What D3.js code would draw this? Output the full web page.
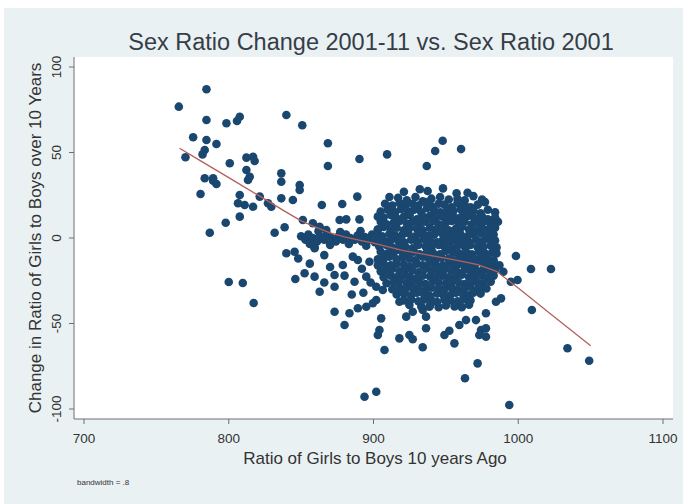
<!DOCTYPE html>
<html>
<head>
<meta charset="utf-8">
<script src="https://cdn.jsdelivr.net/npm/d3@7"></script>
<style>
  html, body { margin: 0; padding: 0; background: #ffffff; }
  svg { display: block; }
  text { font-family: "Liberation Sans", Arial, Helvetica, sans-serif; }
</style>
</head>
<body>
<svg id="chart" width="683" height="504"></svg>
<script>
// Axis ticks
const xTicks = [700, 800, 900, 1000, 1100];
const yTicks = [-100, -50, 0, 50, 100];

// Lowess smooth (bandwidth .8)
const lowX = [766, 780, 800, 820, 840, 850, 860, 870, 880, 890, 900, 920, 940, 957, 972, 985, 1000, 1020, 1035, 1050];
const lowY = [52.5, 45.4, 35.3, 25.2, 15.0, 10.0, 6.3, 3.0, 0.6, -1.2, -3.0, -7.2, -10.3, -12.9, -15.6, -19.5, -29.3, -42.8, -52.9, -63.0];

// Districts outside the central mass: [ratio 2001, change 2001-11]
const spreadPts = [
  [765.5,76.8],[784.6,87.0],[784.6,69.0],[798.4,67.1],[805.7,68.4],[807.6,70.9],[839.8,71.9],[850.8,65.9],
  [775.4,58.9],[784.6,57.3],[791.5,55.0],[783.4,51.5],[781.9,48.9],[770.1,47.2],[800.7,43.7],[812.2,47.0],
  [816.8,47.5],[817.9,45.0],[812.2,39.8],[814.5,35.8],[813.3,33.9],[783.4,34.9],[789.2,34.9],[791.5,31.6],
  [789.2,33.5],[836.3,37.8],[836.3,32.9],[849.0,31.0],[849.0,28.1],[868.5,55.4],[868.5,42.1],[890.3,46.2],
  [909.4,48.9],[780.5,25.7],[807.6,25.1],[806.4,20.3],[811.0,19.3],[816.8,18.3],[821.4,24.2],[827.1,20.3],
  [829.4,18.3],[836.3,23.2],[844.3,22.2],[864.3,19.3],[878.4,19.9],[888.8,24.2],[807.6,12.5],[797.9,8.9],
  [786.9,3.1],[831.7,3.1],[838.6,6.3],[851.2,10.5],[858.1,8.6],[862.8,6.6],[867.4,4.7],[876.6,10.5],
  [881.2,10.9],[890.3,10.9],[911.0,16.4],[839.8,-8.9],[845.5,-8.0],[859.3,-6.0],[859.3,-5.4],
  [800.0,-25.7],[809.7,-26.3],[817.2,-38.0],
  [852.4,-20.6],[859.3,-22.6],[862.8,-31.4],[873.1,-21.6],[873.1,-28.5],[878.8,-15.8],[885.7,-10.9],
  [889.2,-12.9],[897.2,-13.9],[886.9,-25.6],[895.0,-22.6],[873.1,-43.1],[883.4,-44.0],[889.2,-41.1],
  [895.0,-40.2],[899.5,-38.2],[901.9,-36.3],[880.0,-50.9],[905.3,-47.0],[904.1,-53.8],[903.0,-56.7],
  [907.6,-65.5],[901.9,-28.5],[906.4,-30.4],[917.9,-37.3],[924.8,-39.2],[927.1,-43.1],[922.6,-46.0],
  [934.0,-42.1],[938.6,-40.2],[936.3,-46.0],[917.9,-58.7],[924.8,-56.7],[927.1,-59.2],[934.0,-63.9],
  [936.3,-52.8],[949.0,-56.7],[952.4,-54.2],[955.9,-61.6],[959.3,-50.9],[963.9,-48.0],[970.8,-48.0],
  [974.3,-53.8],[977.7,-52.8],[977.7,-57.7],[973.1,-56.7],[977.7,-44.0],[971.9,-73.3],[963.2,-82.0],
  [893.8,-92.8],[901.9,-89.9],[993.8,-97.7],[984.6,-37.3],[988.1,-35.3],[994.9,-25.6],[999.5,-24.6],
  [989.7,-19.7],[998.4,-10.5],[1008.8,-18.1],[1022.6,-18.1],[1009.4,-42.1],[1034.0,-64.5],[1049.0,-71.8],
  [947.8,56.9],[942.6,50.9],[960.5,52.0],[936.8,42.1],[937.4,27.5],[957.4,26.1],
  [848,-12],[856,-15],[866,-10],[870,-17],[880,-22],[892,-18],[898,-26],[893,-32],[866,-26],[846,-24],[885,-33]
];

// Districts along the near-zero band
const bandPts = [
  [850,1],[853,-1],[855,2],[858,0],[861,-2],[863,1],[866,-1],[868,2],[871,0],[874,-2],[876,1],[879,-1],
  [881,2],[884,0],[887,-1],[889,1.5],[892,-2],[894,0.5],[897,-1],[899,2],[901,-2.5],[856,-3.5],[870,-4],
  [883,-3.5],[895,-4.5],[862,4],[877,3.5],[891,4],[903,5]
];

// Districts in the dense central mass
const massPts = [
  [917,23.5],[923,22],[929,24],[934,21.5],[940,23],[946,24],[952,22.5],[958,23],
  [913,19],[918,20.5],[922,18.5],[927,20],[931,19],[936,21],[940,18.5],[945,20],[949,19.5],[954,18],[958,20.5],[963,19],[967,18],
  [910,16.5],[915,15],[919,17],[924,15.5],[928,16.5],[933,15],[937,17.5],[942,16],[946,15],[951,16.5],[955,15.5],[960,17],[964,15],[969,16],[974,14.5],
  [907,12],[912,13.5],[916,11.5],[921,12.5],[925,13.5],[930,11],[934,12.5],[939,13],[943,11.5],[948,12.5],[952,13.5],[957,11.5],[961,12.5],[966,13],[970,11.5],[975,12.5],[979,11],
  [905,9.5],[909,8],[914,9],[918,10],[923,8.5],[927,9.5],[932,8],[936,9.5],[941,10],[945,8],[950,9],[954,10],[959,8.5],[963,9.5],[968,8],[972,9],[977,10],[981,8.5],
  [903,5],[907,6.5],[912,5],[916,6],[921,4.5],[925,6],[930,5.5],[934,4.5],[939,6],[943,5],[948,6.5],[952,4.5],[957,5.5],[961,6.5],[966,5],[970,4.5],[975,6],[979,5],[984,6],
  [902,2],[906,1],[911,2.5],[915,1.5],[920,2],[924,3],[929,1],[933,2.5],[938,1.5],[942,2],[947,3],[951,1],[956,2],[960,2.5],[965,1],[969,2],[974,3],[978,1.5],[983,2],
  [903,-1],[908,-2],[912,-1],[917,-1.5],[921,-2.5],[926,-1],[930,-2],[935,-0.5],[939,-1.5],[944,-2.5],[948,-1],[953,-2],[957,-1],[962,-1.5],[966,-2.5],[971,-1],[975,-2],[980,-1],[984,-1.5],
  [904,-5],[909,-4],[913,-5.5],[918,-4.5],[922,-5],[927,-6],[931,-4],[936,-5],[940,-5.5],[945,-4],[949,-5],[954,-6],[958,-4.5],[963,-5],[967,-4],[972,-5.5],[976,-5],[981,-4.5],[985,-5.5],
  [905,-8],[910,-9],[914,-8.5],[919,-7.5],[923,-9],[928,-8],[932,-9.5],[937,-8],[941,-8.5],[946,-9.5],[950,-7.5],[955,-8.5],[959,-9],[964,-8],[968,-9.5],[973,-8],[977,-9],[982,-8.5],[985,-9],
  [907,-12],[911,-11],[916,-12.5],[920,-11.5],[925,-12],[929,-13],[934,-11],[938,-12],[943,-12.5],[947,-11.5],[952,-12],[956,-13],[961,-11.5],[965,-12],[970,-12.5],[974,-11],[979,-12],[983,-13],
  [907,-15],[912,-16],[916,-15],[921,-15.5],[925,-16.5],[930,-15],[934,-16],[939,-14.5],[943,-15.5],[948,-16],[952,-15],[957,-16.5],[961,-15],[966,-15.5],[970,-16],[975,-14.5],[979,-16],[983,-15],
  [909,-19],[913,-18],[918,-19.5],[922,-18.5],[927,-19],[931,-20],[936,-18],[940,-19],[945,-19.5],[949,-18.5],[954,-19],[958,-20],[963,-18.5],[967,-19],[972,-19.5],[976,-18.5],[980,-19],
  [912,-22],[916,-23],[921,-22],[925,-22.5],[930,-23.5],[934,-22],[939,-22.5],[943,-23],[948,-22],[952,-23],[957,-22.5],[961,-21.5],[966,-23],[970,-22.5],[975,-22],[979,-23],
  [914,-26],[918,-25],[923,-26.5],[927,-25.5],[932,-26],[936,-27],[941,-25],[945,-26],[950,-26.5],[954,-25.5],[959,-26],[963,-27],[968,-25.5],[972,-26],[976,-26.5],
  [918,-29],[922,-30],[927,-29],[931,-29.5],[936,-30.5],[940,-29],[945,-29.5],[949,-30],[954,-29],[958,-30],[963,-29.5],[967,-28.5],[972,-30],[974,-29],
  [921,-32.5],[926,-33.5],[930,-32],[935,-33],[939,-34],[944,-32.5],[948,-33],[953,-33.5],[957,-32],[962,-33],[966,-33.5],[969,-32],
  [926,-36],[931,-37],[935,-36],[940,-36.5],[944,-37.5],[949,-36],[953,-36.5],[958,-37],[962,-36],
  [933,-40],[939,-39.5],[945,-40.5],[950,-39.5],[956,-40]
];

// Districts on the rim of the central mass
const rimPts = [
  [911,24],[963,22],[969,24.5],[975,22.5],[921,27],[932,28.5],[948,29],[965,26.5],
  [908,20],[972,19.5],[977,21],[905,15.5],[979,16.5],[984,15],[903,12.5],[984,12],[986,9.5],
  [903,-12.5],[903,-16],[987,-16],[905,-19.5],[984,-18.5],[907,-23],[983,-22],
  [909,-26.5],[981,-25.5],[913,-30],[978,-29.5],[916,-33],[974,-32.5],[921,-36.5],[967,-36.5],
  [961,-40.5],[966,-39]
];

const W = 683, H = 504;
const plot = { left: 74, right: 673, top: 57, bottom: 419 };

const x = d3.scaleLinear().domain([700, 1100]).range([84, 663]);
const y = d3.scaleLinear().domain([-100, 100]).range([409, 67]);

const svg = d3.select("#chart");

// graph region background
svg.append("rect").attr("x", 4).attr("y", 8).attr("width", W - 4).attr("height", H - 8)
  .attr("fill", "#eaf1f3");

// plot region
svg.append("rect")
  .attr("x", plot.left).attr("y", plot.top)
  .attr("width", plot.right - plot.left).attr("height", plot.bottom - plot.top)
  .attr("fill", "#ffffff");

// title
svg.append("text")
  .attr("x", 371).attr("y", 50)
  .attr("text-anchor", "middle")
  .attr("font-size", 23.5)
  .attr("fill", "#363d48")
  .text("Sex Ratio Change 2001-11 vs. Sex Ratio 2001");

// scatter
const allPts = spreadPts.concat(bandPts, massPts, rimPts);
svg.append("g").selectAll("circle")
  .data(allPts)
  .join("circle")
  .attr("cx", d => x(d[0]))
  .attr("cy", d => y(d[1]))
  .attr("r", 4.3)
  .attr("fill", "#1a476f");

// lowess line
const lowess = d3.line().x(d => x(d[0])).y(d => y(d[1]));
svg.append("path")
  .datum(lowX.map((v, i) => [v, lowY[i]]))
  .attr("d", lowess)
  .attr("fill", "none")
  .attr("stroke", "#b5605a")
  .attr("stroke-width", 1.3);

// x axis
const xAxis = svg.append("g").attr("transform", `translate(0,${plot.bottom})`);
xAxis.append("line").attr("x1", plot.left).attr("x2", plot.right)
  .attr("stroke", "#6b6f73").attr("stroke-width", 1);
xAxis.selectAll(".tk").data(xTicks).join("line")
  .attr("x1", d => x(d)).attr("x2", d => x(d)).attr("y1", 0).attr("y2", 5)
  .attr("stroke", "#6b6f73");
xAxis.selectAll(".lb").data(xTicks).join("text")
  .attr("x", d => x(d)).attr("y", 24)
  .attr("text-anchor", "middle").attr("font-size", 13.5).attr("fill", "#333")
  .text(d => d);

// y axis
const yAxis = svg.append("g").attr("transform", `translate(${plot.left},0)`);
yAxis.append("line").attr("y1", plot.top).attr("y2", plot.bottom)
  .attr("stroke", "#6b6f73").attr("stroke-width", 1);
yAxis.selectAll(".tk").data(yTicks).join("line")
  .attr("y1", d => y(d)).attr("y2", d => y(d)).attr("x1", 0).attr("x2", -5)
  .attr("stroke", "#6b6f73");
yAxis.selectAll(".lb").data(yTicks).join("text")
  .attr("transform", d => `translate(-13,${y(d)}) rotate(-90)`)
  .attr("text-anchor", "middle").attr("font-size", 13.5).attr("fill", "#333")
  .text(d => d);

// axis titles
svg.append("text")
  .attr("x", 375).attr("y", 464)
  .attr("text-anchor", "middle").attr("font-size", 17).attr("fill", "#333")
  .text("Ratio of Girls to Boys 10 years Ago");

svg.append("text")
  .attr("transform", `translate(41,238) rotate(-90)`)
  .attr("text-anchor", "middle").attr("font-size", 17).attr("fill", "#333")
  .text("Change in Ratio of Girls to Boys over 10 Years");

// note
svg.append("text")
  .attr("x", 77).attr("y", 485)
  .attr("font-size", 8).attr("fill", "#333")
  .text("bandwidth = .8");
</script>
</body>
</html>
